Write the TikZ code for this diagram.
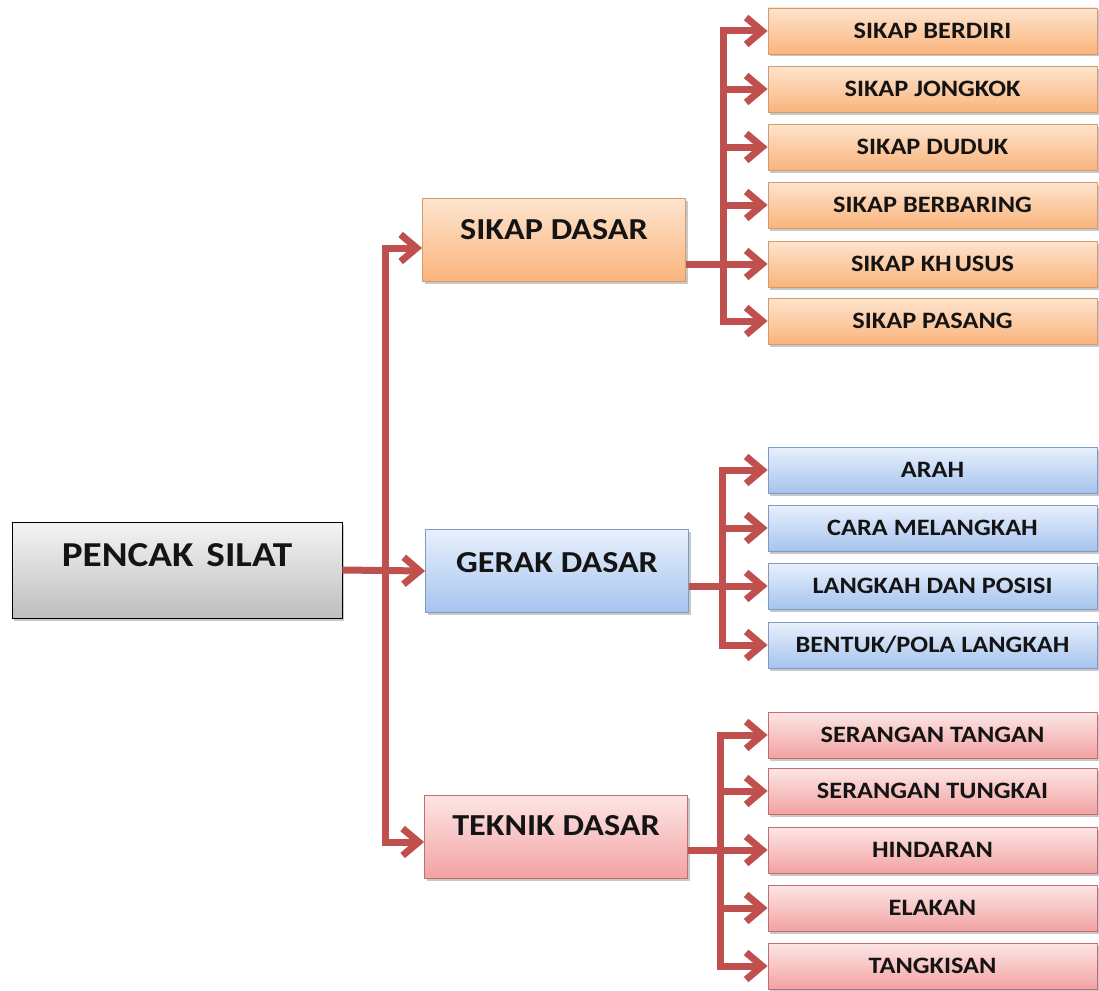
\documentclass[tikz,border=0pt]{standalone}
\usepackage{fontspec}
\setmainfont{Carlito}[FakeStretch=1.12]
\usetikzlibrary{arrows.meta,shadows}
\definecolor{arrred}{HTML}{C0504D}
\definecolor{orT}{HTML}{FDE4CE}
\definecolor{orB}{HTML}{FAB47C}
\definecolor{orD}{HTML}{D29C6E}
\definecolor{blT}{HTML}{E8F0FC}
\definecolor{blB}{HTML}{A6C4EE}
\definecolor{blD}{HTML}{7E9BC6}
\definecolor{rdT}{HTML}{FDE6E6}
\definecolor{rdB}{HTML}{F2A2A2}
\definecolor{rdD}{HTML}{BE7070}
\definecolor{grT}{HTML}{F4F4F4}
\definecolor{grB}{HTML}{BEBEBE}
\definecolor{txt}{HTML}{141414}
\tikzset{
  boxbase/.style={rectangle, inner sep=0pt, line width=0.9pt, text=txt,
    drop shadow={shadow xshift=2pt, shadow yshift=-2.5pt, opacity=0.3, fill=black!70}},
  rootbox/.style={boxbase, draw=black, top color=grT, bottom color=grB,
    minimum width=330pt, minimum height=96pt},
  midbox/.style={boxbase, minimum width=263pt, minimum height=83pt},
  leafbox/.style={boxbase, minimum width=329pt, minimum height=46pt,
    font=\bfseries\fontsize{23.5}{26}\selectfont},
  orbox/.style={draw=orD, top color=orT, bottom color=orB},
  blbox/.style={draw=blD, top color=blT, bottom color=blB},
  rdbox/.style={draw=rdD, top color=rdT, bottom color=rdB},
  midlbl/.style={font=\bfseries\fontsize{30.5}{34}\selectfont, text=txt},
  rootlbl/.style={font=\bfseries\fontsize{35}{40}\selectfont, text=txt},
  tipstyle/.style={},
  wire/.style={draw=arrred, line width=7pt, line join=miter},
  conn/.style={wire, -{Straight Barb[length=16pt, width=27pt, line width=7pt]}},
  conn2/.style={wire, {Straight Barb[length=16pt, width=27pt, line width=7pt]}-{Straight Barb[length=16pt, width=27pt, line width=7pt]}},
}
\begin{document}
\begin{tikzpicture}[x=1pt, y=-1pt]
\useasboundingbox (0,0) rectangle (1099,990);
\fill[white] (0,0) rectangle (1099,990);

% root
\node[rootbox, label={[rootlbl, yshift=15pt]center:PENCAK\kern4pt\ SILAT}] (root) at (177,570) {};

% middle boxes
\node[midbox, orbox, label={[midlbl, yshift=10pt]center:SIKAP DASAR}] (sikap) at (554,240) {};
\node[midbox, blbox, label={[midlbl, yshift=8pt]center:GERAK DASAR}] (gerak) at (557,571) {};
\node[midbox, rdbox, label={[midlbl, yshift=11pt]center:TEKNIK DASAR}] (teknik) at (556,836.5) {};

% leaves: sikap
\node[leafbox, orbox] (berdiri)  at (932.5,31)  {SIKAP BERDIRI};
\node[leafbox, orbox] (jongkok)  at (932.5,89)  {SIKAP JONGKOK};
\node[leafbox, orbox] (duduk)    at (932.5,147) {SIKAP DUDUK};
\node[leafbox, orbox] (berbaring) at (932.5,205) {SIKAP BERBARING};
\node[leafbox, orbox] (khusus)   at (932.5,264) {SIKAP KH\kern3pt USUS};
\node[leafbox, orbox] (pasang)   at (932.5,321) {SIKAP PASANG};

% leaves: gerak
\node[leafbox, blbox] (arah)     at (932.5,470) {ARAH};
\node[leafbox, blbox] (cara)     at (932.5,528) {CARA MELANGKAH};
\node[leafbox, blbox] (posisi)   at (932.5,586) {LANGKAH DAN POSISI};
\node[leafbox, blbox] (pola)     at (932.5,645) {BENTUK/POLA LANGKAH};

% leaves: teknik
\node[leafbox, rdbox] (tangan)   at (932.5,735) {SERANGAN TANGAN};
\node[leafbox, rdbox] (tungkai)  at (932.5,791) {SERANGAN TUNGKAI};
\node[leafbox, rdbox] (hindaran) at (932.5,850) {HINDARAN};
\node[leafbox, rdbox] (elakan)   at (932.5,908) {ELAKAN};
\node[leafbox, rdbox] (tangkis)  at (932.5,966) {TANGKISAN};

% trunk coordinates
\coordinate (tr) at (385,0);
\coordinate (sin) at ([yshift=-8pt]sikap.west);
\coordinate (tin) at ([yshift=-5.5pt]teknik.west);
\coordinate (ox) at (723,0);
\coordinate (bx) at (722,0);
\coordinate (rx) at (720,0);

% main connectors
\draw[conn2] (sin) -- (tr |- sin) -- (tr |- tin) -- (tin);
\draw[conn] (root.east) -- (gerak.west);

% sikap subtree
\draw[conn2] (berdiri.west) -- (ox |- berdiri.west) -- (ox |- pasang.west) -- (pasang.west);
\draw[conn] (ox |- jongkok.west) -- (jongkok.west);
\draw[conn] (ox |- duduk.west) -- (duduk.west);
\draw[conn] (ox |- berbaring.west) -- (berbaring.west);
\draw[conn] (sikap.east |- khusus.west) -- (khusus.west);

% gerak subtree
\draw[conn2] (arah.west) -- (bx |- arah.west) -- (bx |- pola.west) -- (pola.west);
\draw[conn] (bx |- cara.west) -- (cara.west);
\draw[conn] (gerak.east |- posisi.west) -- (posisi.west);

% teknik subtree
\draw[conn2] (tangan.west) -- (rx |- tangan.west) -- (rx |- tangkis.west) -- (tangkis.west);
\draw[conn] (rx |- tungkai.west) -- (tungkai.west);
\draw[conn] (teknik.east |- hindaran.west) -- (hindaran.west);
\draw[conn] (rx |- elakan.west) -- (elakan.west);
\end{tikzpicture}
\end{document}
